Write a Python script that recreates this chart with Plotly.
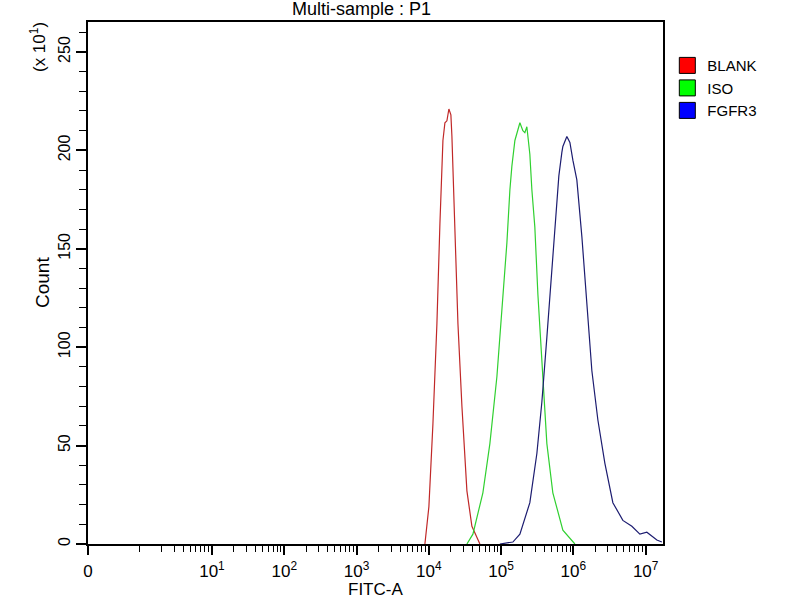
import numpy as np
import plotly.graph_objs as go

# FITC-A intensity and event counts (x10^1)
blank_x = [8830, 10030, 11400, 12950, 14250, 15680, 16710, 17800, 18960, 20210, 20880, 21570,
           22980, 25290, 28710, 33660, 39480, 50920]
blank_y = [0, 19, 61, 112, 163, 205, 214, 215, 221, 218, 207, 192, 163, 112, 70, 27, 9, 0]

iso_x = [33660, 40740, 55980, 69980, 87490, 102600, 120300, 132400, 141000, 155200, 182000,
         200100, 213300, 227300, 250000, 266600, 293000, 322700, 378300, 429700, 520000,
         715600, 1049000]
iso_y = [0, 5, 26, 51, 85, 119, 153, 180, 192, 205, 214, 210, 209, 212, 198, 180, 161, 127,
         85, 51, 26, 7, 0]

fgfr3_x = [96200, 145500, 182000, 250000, 312600, 366400, 429700, 503800, 591300, 629600,
           693000, 715600, 812800, 895400, 984300, 1117000, 1312000, 1538000, 1803000,
           2183000, 2729000, 3519000, 4838000, 6446000, 8318000, 10390000, 14290000, 16750000]
fgfr3_y = [0, 1, 5, 21, 46, 72, 105, 139, 173, 187, 199, 202, 207, 204, 195, 185, 156, 122,
           88, 63, 41, 21, 12, 9, 5, 6, 2, 1]

names = ["BLANK", "ISO", "FGFR3"]
line_colors = ["#c02828", "#30d030", "#1c1c70"]
legend_colors = ["#ff0000", "#00ff00", "#0000ff"]

zero_pos = 10 ** -0.715   # where the "0" of the biexponential axis sits
x_max = 10 ** 7.24
y_max = 265.2

tick_vals = [zero_pos] + [10 ** d for d in range(1, 8)]
tick_text = ["0"] + ["10<sup>%d</sup>" % d for d in range(1, 8)]
minor_vals = [k * 10 ** d for d in range(0, 7) for k in range(1, 10) if not (k == 1 and d > 0)]

fig = go.Figure()
series = [(blank_x, blank_y), (iso_x, iso_y), (fgfr3_x, fgfr3_y)]
for (xs, ys), name, col in zip(series, names, line_colors):
    fig.add_trace(go.Scatter(x=xs, y=ys, mode="lines", name=name, showlegend=False,
                             line=dict(color=col, width=1.2)))

# square legend swatches like the cytometer software
for name, col in zip(names, legend_colors):
    fig.add_trace(go.Scatter(x=[None], y=[None], mode="markers", name=name,
                             marker=dict(symbol="square", size=18, color=col,
                                         line=dict(color="black", width=1))))

fig.update_layout(
    width=800, height=600,
    margin=dict(l=88, r=137, t=22, b=56),
    paper_bgcolor="white", plot_bgcolor="white",
    font=dict(family="Liberation Sans, Arial", size=16, color="black"),
    legend=dict(x=1.0075, y=0.948, xanchor="left", yanchor="top",
                font=dict(size=15), itemsizing="trace", tracegroupgap=0,
                bgcolor="rgba(0,0,0,0)"),
    annotations=[
        dict(text="Multi-sample : P1", xref="paper", yref="paper", x=0.475, y=1.025,
             xanchor="center", yanchor="middle", showarrow=False, font=dict(size=18)),
        dict(text="(x 10<sup>1</sup>)", xref="paper", yref="paper", x=-0.087, y=0.952,
             xanchor="center", yanchor="middle", showarrow=False, textangle=-90,
             font=dict(size=17)),
        dict(text="Count", xref="paper", yref="paper", x=-0.08, y=0.5,
             xanchor="center", yanchor="middle", showarrow=False, textangle=-90,
             font=dict(size=19)),
        dict(text="FITC-A", xref="paper", yref="paper", x=0.5, y=-0.088,
             xanchor="center", yanchor="middle", showarrow=False, font=dict(size=17)),
    ],
)

fig.update_xaxes(type="log", range=[np.log10(zero_pos), np.log10(x_max)],
                 showgrid=False, zeroline=False,
                 showline=True, linecolor="black", linewidth=1.5, mirror=True,
                 tickmode="array", tickvals=tick_vals, ticktext=tick_text,
                 ticks="outside", ticklen=9, tickcolor="black", tickwidth=1.5,
                 tickfont=dict(size=17), ticklabelstandoff=2,
                 minor=dict(tickmode="array", tickvals=minor_vals, ticks="outside",
                            ticklen=6, tickcolor="black", tickwidth=1, showgrid=False))

fig.update_yaxes(range=[0, y_max], showgrid=False, zeroline=False,
                 showline=True, linecolor="black", linewidth=1.5, mirror=True,
                 tickmode="array", tickvals=[0, 50, 100, 150, 200, 250],
                 ticks="outside", ticklen=10, tickcolor="black", tickwidth=1.5,
                 tickangle=-90, tickfont=dict(size=16),
                 minor=dict(tickmode="array", tickvals=list(range(10, 270, 10)),
                            ticks="outside", ticklen=7, tickcolor="black", tickwidth=1,
                            showgrid=False))

# drop the browser's default 8px body margin so the figure fills the window exactly
fig.write_html("out.html", config={"displayModeBar": False},
               post_script="document.body.style.margin='0';")
